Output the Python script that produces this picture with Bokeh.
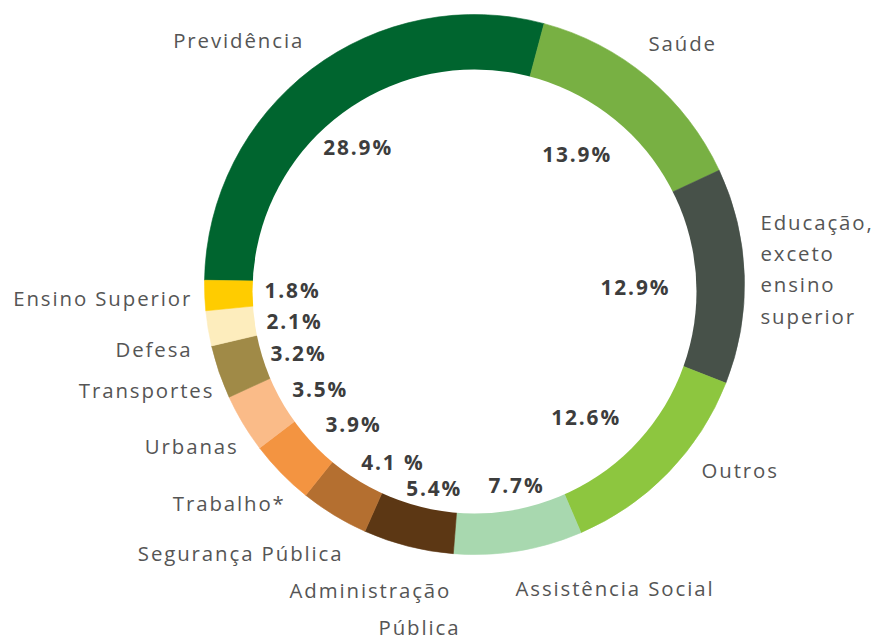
import math
from bokeh.plotting import figure
from bokeh.models import Range1d, ColumnDataSource, InlineStyleSheet
from bokeh.core.properties import value
from bokeh.embed import file_html
from bokeh.resources import INLINE

# ---- data (clockwise order, starting with Previdência) ----
categories = ["Previdência", "Saúde", "Educação, exceto ensino superior", "Outros",
              "Assistência Social", "Administração Pública", "Segurança Pública",
              "Trabalho*", "Urbanas", "Transportes", "Defesa", "Ensino Superior"]
shares = [28.9, 13.9, 12.9, 12.6, 7.7, 5.4, 4.1, 3.9, 3.5, 3.2, 2.1, 1.8]
share_labels = ["28.9%", "13.9%", "12.9%", "12.6%", "7.7%", "5.4%", "4.1 %",
                "3.9%", "3.5%", "3.2%", "2.1%", "1.8%"]
colors = ["#00652F", "#78B043", "#475149", "#8DC63F", "#A8D8AF", "#5C3714",
          "#B46F30", "#F39441", "#FABB88", "#A08A47", "#FDEDBD", "#FFCC00"]

# ---- layout (reference pixel coordinates: left x, baseline y) ----
W, H = 873, 641
CX, CY, R_OUT = 474, 284, 270
ICX, ICY, R_IN = 474, 291, 222
START_CW = 270.9  # degrees, clockwise from 12 o'clock
TEXT_DY = 8  # renderer baseline correction (px)

cat_text_pos = [
    ("Previdência", 172.7, 47.7),
    ("Saúde", 648, 50),
    ("Educação,", 760, 229.3),
    ("exceto", 760, 260.7),
    ("ensino", 760, 291.7),
    ("superior", 760, 323.3),
    ("Outros", 701, 477.3),
    ("Assistência Social", 515, 595),
    ("Administração", 289, 597.3),
    ("Pública", 378, 634),
    ("Segurança Pública", 137.3, 560.7),
    ("Trabalho*", 172.3, 510.7),
    ("Urbanas", 144.3, 453.3),
    ("Transportes", 78.3, 397.3),
    ("Defesa", 115, 356),
    ("Ensino Superior", 12.7, 305),
]
pct_pos = [(322.7, 154), (541.7, 161.7), (600, 294), (550.7, 424), (488, 492),
           (405.7, 495), (360.7, 469), (325, 431.7), (291.7, 396), (270, 360.7),
           (266, 328.3), (264, 297.7)]


def fy(y):
    return H - y


def fty(y):
    return H - (y - TEXT_DY)


p = figure(width=W, height=H, output_backend="svg", toolbar_location=None,
           x_range=Range1d(0, W), y_range=Range1d(0, H),
           min_border=0, background_fill_color="white", border_fill_color="white")
p.axis.visible = False
p.grid.visible = False
p.outline_line_color = None
p.stylesheets = [InlineStyleSheet(css=":host { letter-spacing: 1.9px; }")]

# wedges from cumulative shares
starts, ends = [], []
acc = START_CW
for s in shares:
    a0 = acc
    a1 = acc + 360.0 * s / 100.0
    starts.append(math.radians(90 - a0))
    ends.append(math.radians(90 - a1))
    acc = a1

src = ColumnDataSource(dict(cat=categories, share=shares, start=starts, end=ends, color=colors))
p.wedge(x=CX, y=fy(CY), radius=R_OUT, start_angle="start", end_angle="end",
        direction="clock", fill_color="color", line_color="color", line_width=0.6, source=src)
p.circle(x=ICX, y=fy(ICY), radius=R_IN, fill_color="white", line_color=None)

# category labels
p.text(x=[c[1] for c in cat_text_pos], y=[fty(c[2]) for c in cat_text_pos],
       text=[c[0] for c in cat_text_pos], text_font=value("Open Sans"),
       text_font_size="20.4px", text_color="#555555",
       text_align="left", text_baseline="alphabetic")

# percent labels
p.text(x=[q[0] for q in pct_pos], y=[fty(q[1]) for q in pct_pos],
       text=share_labels, text_font=value("Open Sans"), text_font_style="bold",
       text_font_size="20.8px", text_color="#3D3D3D",
       text_align="left", text_baseline="alphabetic")

open("out.html", "w").write(file_html(p, INLINE))
